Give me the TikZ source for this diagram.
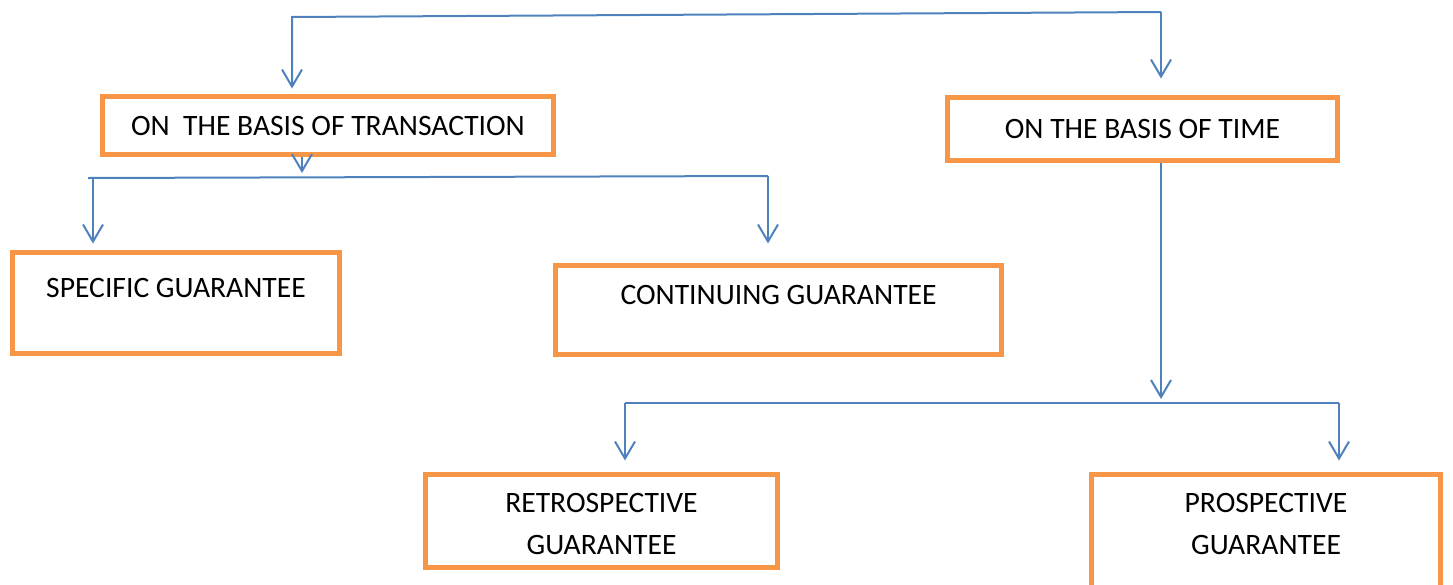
\documentclass[tikz,border=0pt]{standalone}
\usepackage{fontspec}
\setmainfont{Carlito}
\usetikzlibrary{arrows.meta}
\definecolor{boxorange}{HTML}{F79646}
\definecolor{linkblue}{HTML}{4F81BD}

\begin{document}
\begin{tikzpicture}[
    x=1pt, y=-1pt,
    font=\fontsize{29.6}{42}\selectfont,
    box/.style={draw=boxorange, line width=5pt, rectangle, inner sep=0pt, align=center},
    link/.style={draw=linkblue, line width=2pt},
    arr/.style={link, -{Straight Barb[length=17pt,width=20pt]}},
]
    \clip (0,0) rectangle (1453,584);

    % first level
    \node[box, minimum width=451pt, minimum height=58pt] (trans) at (328,125.5) {ON\ \ THE BASIS OF TRANSACTION};
    \node[box, minimum width=390pt, minimum height=63pt] (time) at (1142.5,129) {ON THE BASIS OF TIME};

    % second level
    \node[box, minimum width=327pt, minimum height=101pt,
        label={[yshift=15pt]center:SPECIFIC GUARANTEE}] (specific) at (176,303) {};
    \node[box, minimum width=446pt, minimum height=89pt,
        label={[yshift=15pt]center:CONTINUING GUARANTEE}] (continuing) at (778.5,310) {};
    \node[box, minimum width=352pt, minimum height=93pt,
        label={[yshift=-3pt, align=center]center:RETROSPECTIVE\\GUARANTEE}] (retro) at (601.5,521) {};
    \node[box, minimum width=349pt, minimum height=125.5pt,
        label={[yshift=13pt, align=center]center:PROSPECTIVE\\GUARANTEE}] (prosp) at (1266,537.25) {};

    % top line
    \coordinate (topL) at (292,17);
    \coordinate (topR) at (1161,12);
    \draw[arr, shorten >=5.5pt] (topR) -- (topL) -- (topL |- trans.north);
    \draw[arr, shorten >=16.5pt] (topR) -- (topR |- time.north);

    % forks
    \coordinate (fork1M) at (302,177);
    \coordinate (fork1L) at (93,178);
    \coordinate (fork1R) at (768,176);
    \draw[arr, shorten >=4pt] (trans.south -| fork1M) -- (fork1M);
    \draw[link] ([xshift=-5pt]fork1L) -- (fork1R);

    \coordinate (fork2M) at (1161,403);
    \coordinate (fork2L) at (625,403);
    \coordinate (fork2R) at (1339,403);
    \draw[arr, shorten >=4pt] (time.south -| fork2M) -- (fork2M);
    \draw[link] (fork2L) -- (fork2R);

    \foreach \a/\b/\s in {fork1L/specific/6.5, fork1R/continuing/19.5, fork2L/retro/11.5, fork2R/prosp/11.5}{
            \draw[arr, shorten >=\s pt] (\a) -- (\a |- \b.north);
        }
\end{tikzpicture}
\end{document}
